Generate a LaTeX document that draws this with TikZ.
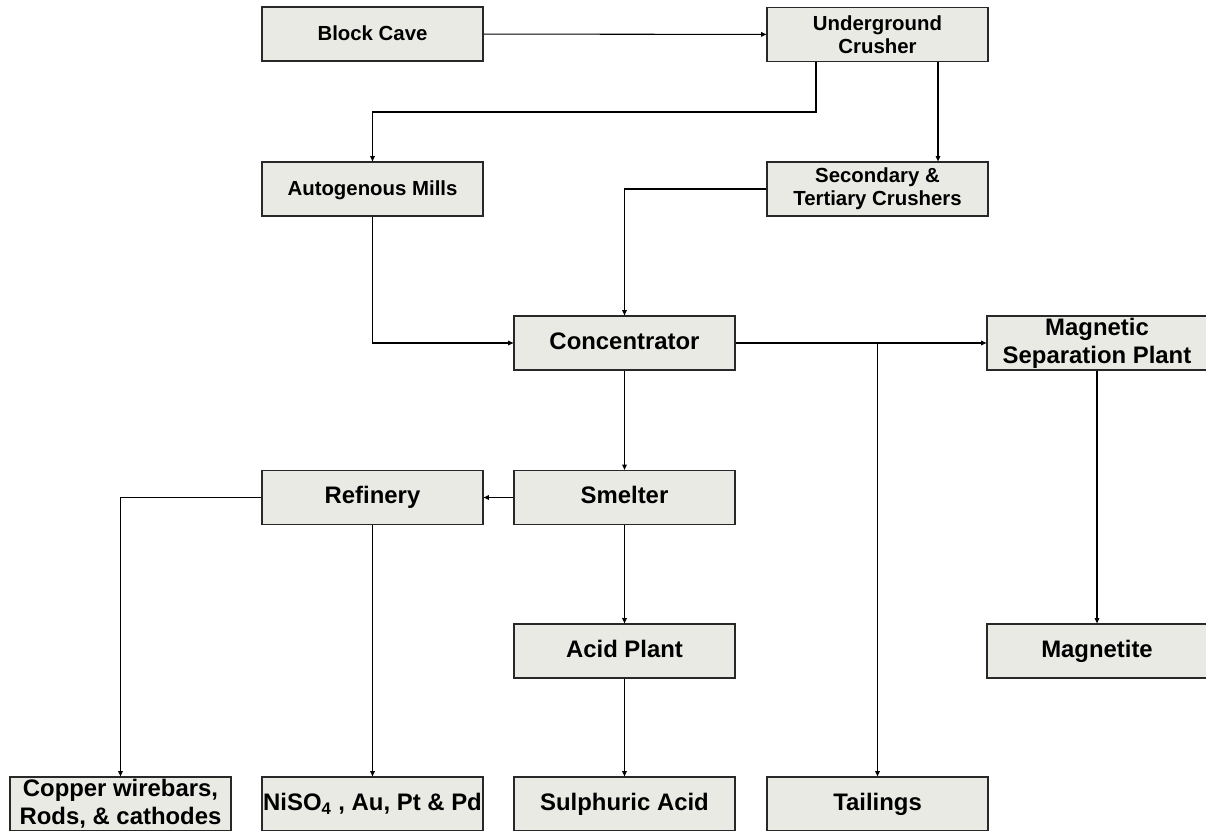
\documentclass[tikz,border=0pt]{standalone}
\usepackage{fontspec}
\setmainfont{Liberation Sans}
\usetikzlibrary{arrows.meta}
\definecolor{boxfill}{RGB}{234,234,229}
\definecolor{boxline}{RGB}{40,40,40}
\begin{document}
\begin{tikzpicture}[x=0.02cm, y=-0.02cm,
    box/.style={draw=boxline, fill=boxfill, line width=0.7pt, minimum width=4.42cm,
        minimum height=1.08cm, inner sep=0pt, align=center,
        text height=0.92em, text depth=0.2em,
        font=\bfseries\fontsize{13.6}{16}\selectfont},
    smallbox/.style={box, font=\bfseries\fontsize{11.6}{13}\selectfont},
    twolines/.style={text height=, text depth=},
    flow/.style={-{Triangle[length=3pt,width=2.6pt]}, line width=0.6pt}]
            \useasboundingbox (0,0) rectangle (1206,831);

            \node[smallbox] (cave) at (372.5,34) {Block Cave};
            \node[smallbox, twolines] (ugcrusher) at (877.5,34.5) {Underground\\Crusher};
            \node[smallbox] (mills) at (372.5,189) {Autogenous Mills};
            \node[smallbox, twolines] (crushers) at (877.5,189) {Secondary \&\\Tertiary Crushers};

            \node[box] (conc) at (624.5,343) {Concentrator};
            \node[box, twolines, minimum width=4.4cm] (magsep) at (1097,343) {Magnetic\\Separation Plant};
            \node[box] (refinery) at (372.5,497.5) {Refinery};
            \node[box] (smelter) at (624.5,497.5) {Smelter};
            \node[box] (acid) at (624.5,651) {Acid Plant};
            \node[box, minimum width=4.4cm] (magnetite) at (1097,651) {Magnetite};

            \node[box, twolines] (copper) at (120.5,804) {Copper wirebars,\\Rods, \& cathodes};
            \node[box] (niso) at (372.5,804) {NiSO\textsubscript{4} , Au, Pt \& Pd};
            \node[box] (sulph) at (624.5,804) {Sulphuric Acid};
            \node[box] (tailings) at (877.5,804) {Tailings};

            \coordinate (tapmills) at (816,112);
            \coordinate (tapcrush) at (938,112);

            \draw[flow] (cave) -- (ugcrusher);
            \draw[flow] (tapmills |- ugcrusher.south) -- (tapmills) -| (mills.north);
            \draw[flow] (tapcrush |- ugcrusher.south) -- (tapcrush |- crushers.north);
            \draw[flow] (crushers.west) -| (conc.north);
            \draw[flow] (mills.south) |- (conc.west);
            \draw[flow] (conc) -- (magsep);
            \draw[flow] (tailings.north |- conc.east) -- (tailings.north);
            \draw[flow] (conc) -- (smelter);
            \draw[flow] (smelter) -- (refinery);
            \draw[flow] (refinery.west) -| (copper.north);
            \draw[flow] (refinery) -- (niso);
            \draw[flow] (smelter) -- (acid);
            \draw[flow] (acid) -- (sulph);
            \draw[flow] (magsep) -- (magnetite);
        \end{tikzpicture}
\end{document}
